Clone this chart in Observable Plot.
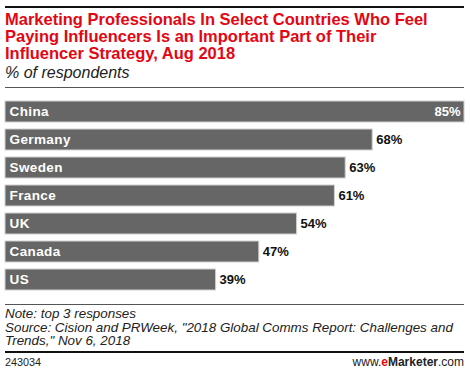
<!DOCTYPE html>
<html><head><meta charset="utf-8">
<script src="https://cdn.jsdelivr.net/npm/d3@7"></script>
<script src="https://cdn.jsdelivr.net/npm/@observablehq/plot@0.6"></script>
<style>
html,body{margin:0;padding:0;background:#fff;}
#wrap{position:relative;width:470px;height:375px;overflow:hidden;font-family:"Liberation Sans",Arial,sans-serif;}
.abs{position:absolute;white-space:nowrap;}
.title{left:5px;color:#e30613;font-weight:bold;font-size:16.5px;line-height:17.2px;}
.sub{left:5px;top:63.5px;font-style:italic;font-size:16px;color:#222;}
.foot{left:5px;font-style:italic;font-size:13.4px;color:#222;line-height:13.7px;}
.rule{position:absolute;left:5px;width:459px;}
</style></head>
<body><div id="wrap">
<div class="rule" style="top:5.5px;height:2.5px;background:#111"></div>
<div class="abs title" id="t1" style="top:11px">Marketing Professionals In Select Countries Who Feel</div>
<div class="abs title" id="t2" style="top:28.2px">Paying Influencers Is an Important Part of Their</div>
<div class="abs title" id="t3" style="top:45.4px">Influencer Strategy, Aug 2018</div>
<div class="abs sub">% of respondents</div>
<div class="rule" style="top:87px;height:1px;background:#555"></div>
<div id="chart" style="position:absolute;left:0;top:92px"></div>
<div class="rule" style="top:303.5px;height:1px;background:#555"></div>
<div class="abs foot" style="top:307px">Note: top 3 responses<br>Source: Cision and PRWeek, "2018 Global Comms Report: Challenges and<br>Trends," Nov 6, 2018</div>
<div class="rule" style="top:350.5px;height:2.5px;background:#111"></div>
<div class="abs" style="left:5px;top:356px;font-size:10.8px;color:#222">243034</div>
<div class="abs" style="right:6px;top:355px;font-size:12px;color:#222">www.<b style="color:#e30613">e</b><b>Marketer</b>.com</div>
</div>
<script>
const countries = ["China","Germany","Sweden","France","UK","Canada","US"];
const values = [85,68,63,61,54,47,39];
const data = countries.map((c,i)=>({country:c, value:values[i]}));
const font = "Liberation Sans, Arial, sans-serif";
const chart = Plot.plot({
  width:470, height:204,
  marginLeft:5, marginRight:6, marginTop:7.5, marginBottom:5.3,
  x:{domain:[0,85], axis:null},
  y:{domain:countries, axis:null, paddingInner:0.25, paddingOuter:0},
  marks:[
    Plot.barX(data,{x:"value", y:"country", fill:"#666", stroke:"#d0d0d0", strokeWidth:1}),
    Plot.text(data,{x:0, y:"country", text:"country", textAnchor:"start", dx:4, fill:"#fff", fontWeight:"bold", fontSize:13.5, fontFamily:font, letterSpacing:0.4}),
    Plot.text(data.filter(d=>d.value>=80),{x:"value", y:"country", text:d=>d.value+"%", textAnchor:"end", dx:-4, fill:"#fff", fontWeight:"bold", fontSize:13, fontFamily:font}),
    Plot.text(data.filter(d=>d.value<80),{x:"value", y:"country", text:d=>d.value+"%", textAnchor:"start", dx:3.5, fill:"#111", fontWeight:"bold", fontSize:13, fontFamily:font})
  ]
});
chart.querySelectorAll("text").forEach(t=>t.style.letterSpacing="0");
chart.querySelectorAll("g[aria-label='text']")[0]?.querySelectorAll("text").forEach(t=>t.style.letterSpacing="0.4px");
document.getElementById("chart").appendChild(chart);
</script>
</body></html>
